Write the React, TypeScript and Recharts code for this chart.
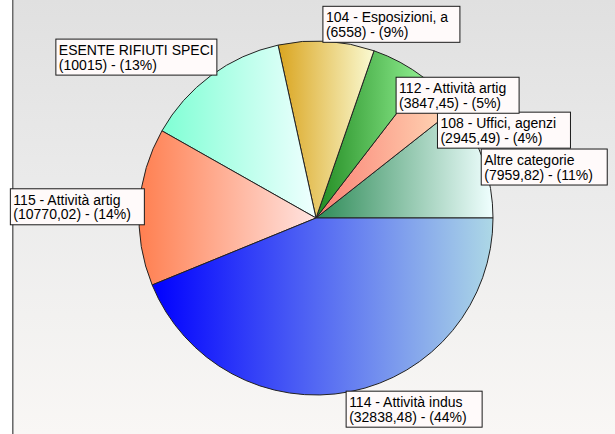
import React from "react";
import { PieChart, Pie, Cell } from "recharts";

// ---- data ----
const categories = [
  "Altre categorie",
  "108 - Uffici, agenzi",
  "112 - Attività artig",
  "104 - Esposizioni, a",
  "ESENTE RIFIUTI SPECI",
  "115 - Attività artig",
  "114 - Attività indus",
];
const values = [7959.82, 2945.49, 3847.45, 6558, 10015, 10770.02, 32838.48];

// ---- styles ----
const gradientStops: [string, string][] = [
  ["#2e8b57", "#f0ffff"],
  ["#fa8072", "#ffdab9"],
  ["#228b22", "#90ee90"],
  ["#daa520", "#fafad2"],
  ["#7fffd4", "#f0ffff"],
  ["#ff7f50", "#ffe4e1"],
  ["#0000ff", "#add8e6"],
];
// label box widths and nudges (relative to the slice's outer-edge point at mid angle)
const labelBoxW = [126, 133, 123, 137, 161, 134, 136];
const labelNudge: [number, number][] = [
  [-2, -11],
  [-3, 20],
  [-4, 15],
  [-3.5, -35],
  [-155, -36.5],
  [-129, -18],
  [-4, -0.5],
];

const data = categories.map((name, i) => ({ name, value: values[i] }));
const total = values.reduce((a, b) => a + b, 0);
const RAD = Math.PI / 180;

const fmt = (v: number) => String(v).replace(".", ",");

const renderLabel = (props: any) => {
  const { cx, cy, midAngle, outerRadius, index } = props;
  const px = cx + outerRadius * Math.cos(-midAngle * RAD);
  const py = cy + outerRadius * Math.sin(-midAngle * RAD);
  const [dx, dy] = labelNudge[index];
  const x = px + dx;
  const y = py + dy;
  const w = labelBoxW[index];
  const pct = Math.round((values[index] / total) * 100);
  return (
    <g key={`lbl-${index}`}>
      <rect x={x} y={y} width={w} height={36} fill="#fffafa" stroke="#1a1a1a" strokeWidth={1} />
      <text
        x={x + 3}
        y={y + 16}
        fontSize={14}
        fontFamily="'Liberation Sans', Arial, sans-serif"
        fill="#000"
      >
        {categories[index]}
      </text>
      <text
        x={x + 3}
        y={y + 30.5}
        fontSize={14}
        fontFamily="'Liberation Sans', Arial, sans-serif"
        fill="#000"
      >
        {`(${fmt(values[index])}) - (${pct}%)`}
      </text>
    </g>
  );
};

export default function App() {
  return (
    <div
      style={{
        position: "fixed",
        left: 0,
        top: 0,
        width: 615,
        height: 434,
        background: "#ffffff",
        overflow: "hidden",
      }}
    >
      <div
        style={{
          position: "absolute",
          left: 12,
          top: 0,
          width: 603,
          height: 434,
          boxSizing: "border-box",
          borderLeft: "1px solid #6a6a6a",
          boxShadow: "inset 1px 0 0 #a8a8a8",
          background: "linear-gradient(to bottom, #e0e0e0 0%, #ebebeb 45%, #f9f7f5 100%)",
        }}
      />
      <svg width={0} height={0} style={{ position: "absolute" }}>
        <defs>
          {gradientStops.map(([a, b], i) => (
            <linearGradient key={i} id={`slice-grad-${i}`} x1="0" y1="0" x2="1" y2="0">
              <stop offset="0%" stopColor={a} />
              <stop offset="100%" stopColor={b} />
            </linearGradient>
          ))}
        </defs>
      </svg>
      <div style={{ position: "absolute", left: 0, top: 0 }}>
        <PieChart width={615} height={434} margin={{ top: 0, right: 0, bottom: 0, left: 0 }}>
          <Pie
            data={data}
            dataKey="value"
            nameKey="name"
            cx={316}
            cy={218}
            outerRadius={177}
            startAngle={0}
            endAngle={360}
            stroke="#222"
            strokeWidth={1}
            label={renderLabel}
            labelLine={false}
            isAnimationActive={false}
          >
            {data.map((_, i) => (
              <Cell key={i} fill={`url(#slice-grad-${i})`} />
            ))}
          </Pie>
        </PieChart>
      </div>
    </div>
  );
}
